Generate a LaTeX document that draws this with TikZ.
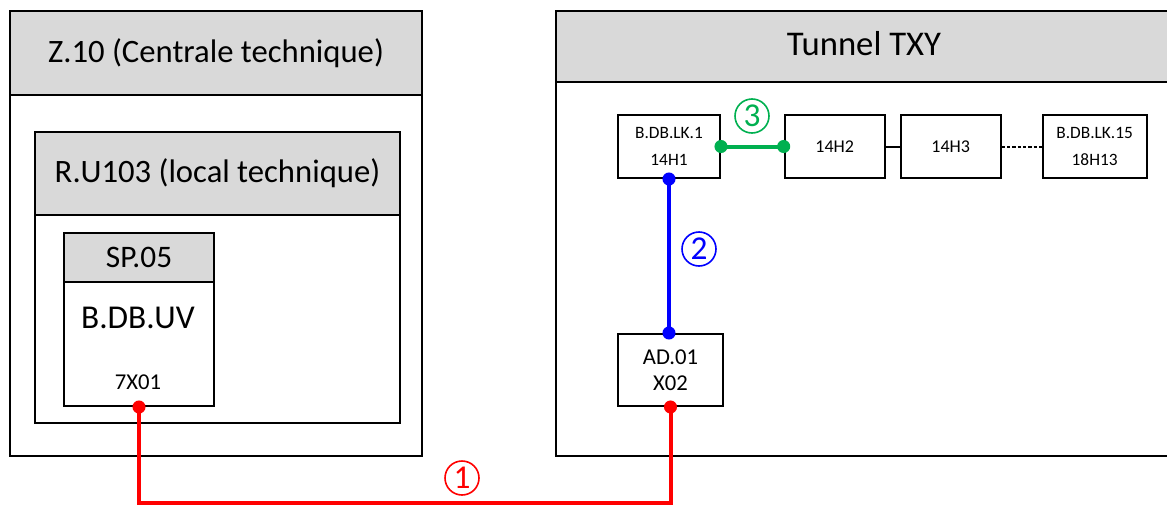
\documentclass[tikz,border=0pt]{standalone}
\usepackage{fontspec}
\setmainfont{Carlito}
\usetikzlibrary{positioning}
\definecolor{headgray}{HTML}{D9D9D9}
\definecolor{linkred}{HTML}{FF0000}
\definecolor{linkblue}{HTML}{0000FF}
\definecolor{linkgreen}{HTML}{00B050}
\tikzset{
  zone/.style={draw, line width=1.5pt, inner sep=0pt, anchor=north west},
  head/.style={zone, fill=headgray},
  dev/.style={draw, line width=1.5pt, fill=white, inner sep=0pt, anchor=north west, align=center},
  link/.style={line width=3pt},
  num/.style={circle, draw, line width=1.2pt, inner sep=0pt, minimum size=25.5pt, font=\fontsize{25}{25}\selectfont},
}

\begin{document}
\begin{tikzpicture}[x=0.75pt, y=-0.75pt]
\useasboundingbox (0,0) rectangle (1167,507);
\clip (0,0) rectangle (1167,507);
% zone Z.10
\node[zone, minimum width=309pt, minimum height=333.75pt] (z10) at (9,10) {};
\node[head, minimum width=309pt, minimum height=63pt, font=\fontsize{24.5}{24.5}\selectfont] (z10head) at (9,10) {Z.10 (Centrale technique)};
\node[zone, minimum width=273.75pt, minimum height=218.25pt] (ru) at (34,131) {};
\node[head, minimum width=273.75pt, minimum height=62.25pt, font=\fontsize{24.5}{24.5}\selectfont] (ruhead) at (34,131) {R.U103 (local technique)};
\node[zone, minimum width=112.5pt, minimum height=129.75pt] (sp) at (63,232) {};
\node[head, minimum width=112.5pt, minimum height=36.75pt, font=\fontsize{23.5}{23.5}\selectfont] (sphead) at (63,232) {SP.05};
\node[font=\fontsize{25}{25}\selectfont] (uv) at (138,318) {B.DB.UV};
\node[font=\fontsize{17}{17}\selectfont] (uvport) at (138,382) {7X01};
% tunnel
\node[zone, minimum width=525pt, minimum height=333.75pt] (tun) at (555,10) {};
\node[head, minimum width=525pt, minimum height=53.25pt] (tunhead) at (555,10) {};
\node[font=\fontsize{26}{26}\selectfont] (tuntitle) at (864,44) {Tunnel TXY};
\node[dev, minimum width=76.5pt, minimum height=47.25pt, font=\fontsize{13}{20}\selectfont] (lk1) at (617,114) {B.DB.LK.1\\14H1};
\node[dev, minimum width=75pt, minimum height=47.25pt, font=\fontsize{13.5}{20}\selectfont, right=47pt of lk1.north east, anchor=north west] (h2) {14H2};
\node[dev, minimum width=75pt, minimum height=47.25pt, font=\fontsize{13.5}{20}\selectfont, right=10.5pt of h2] (h3) {14H3};
\node[dev, minimum width=78pt, minimum height=47.25pt, font=\fontsize{13}{20}\selectfont, right=30pt of h3] (lk15) {B.DB.LK.15\\18H13};
\node[dev, minimum width=78.75pt, minimum height=54pt, font=\fontsize{17}{19.5}\selectfont] (ad) at (617,333) {AD.01\\X02};
\draw[line width=1.5pt] (h2) -- (h3);
\draw[line width=1.5pt, dash pattern=on 2.5pt off 1.5pt] (h3) -- (lk15);
% links
\coordinate (redbase) at (462,503);
\draw[link, linkred] (sp.south) -- (sp.south |- redbase) -| (ad.south);
\fill[linkred] (sp.south) circle (4.9pt) (ad.south) circle (4.9pt);
\node[num, linkred] (n1) at (462,478) {1};
\draw[link, linkblue] (lk1.south) -- (lk1.south |- ad.north);
\fill[linkblue] (lk1.south) circle (4.9pt) (lk1.south |- ad.north) circle (4.9pt);
\node[num, linkblue] (n2) at (699,249) {2};
\draw[link, linkgreen] (lk1.east) -- (h2.west);
\fill[linkgreen] (lk1.east) circle (4.9pt) (h2.west) circle (4.9pt);
\node[num, linkgreen] (n3) at (752,116) {3};
\end{tikzpicture}
\end{document}
